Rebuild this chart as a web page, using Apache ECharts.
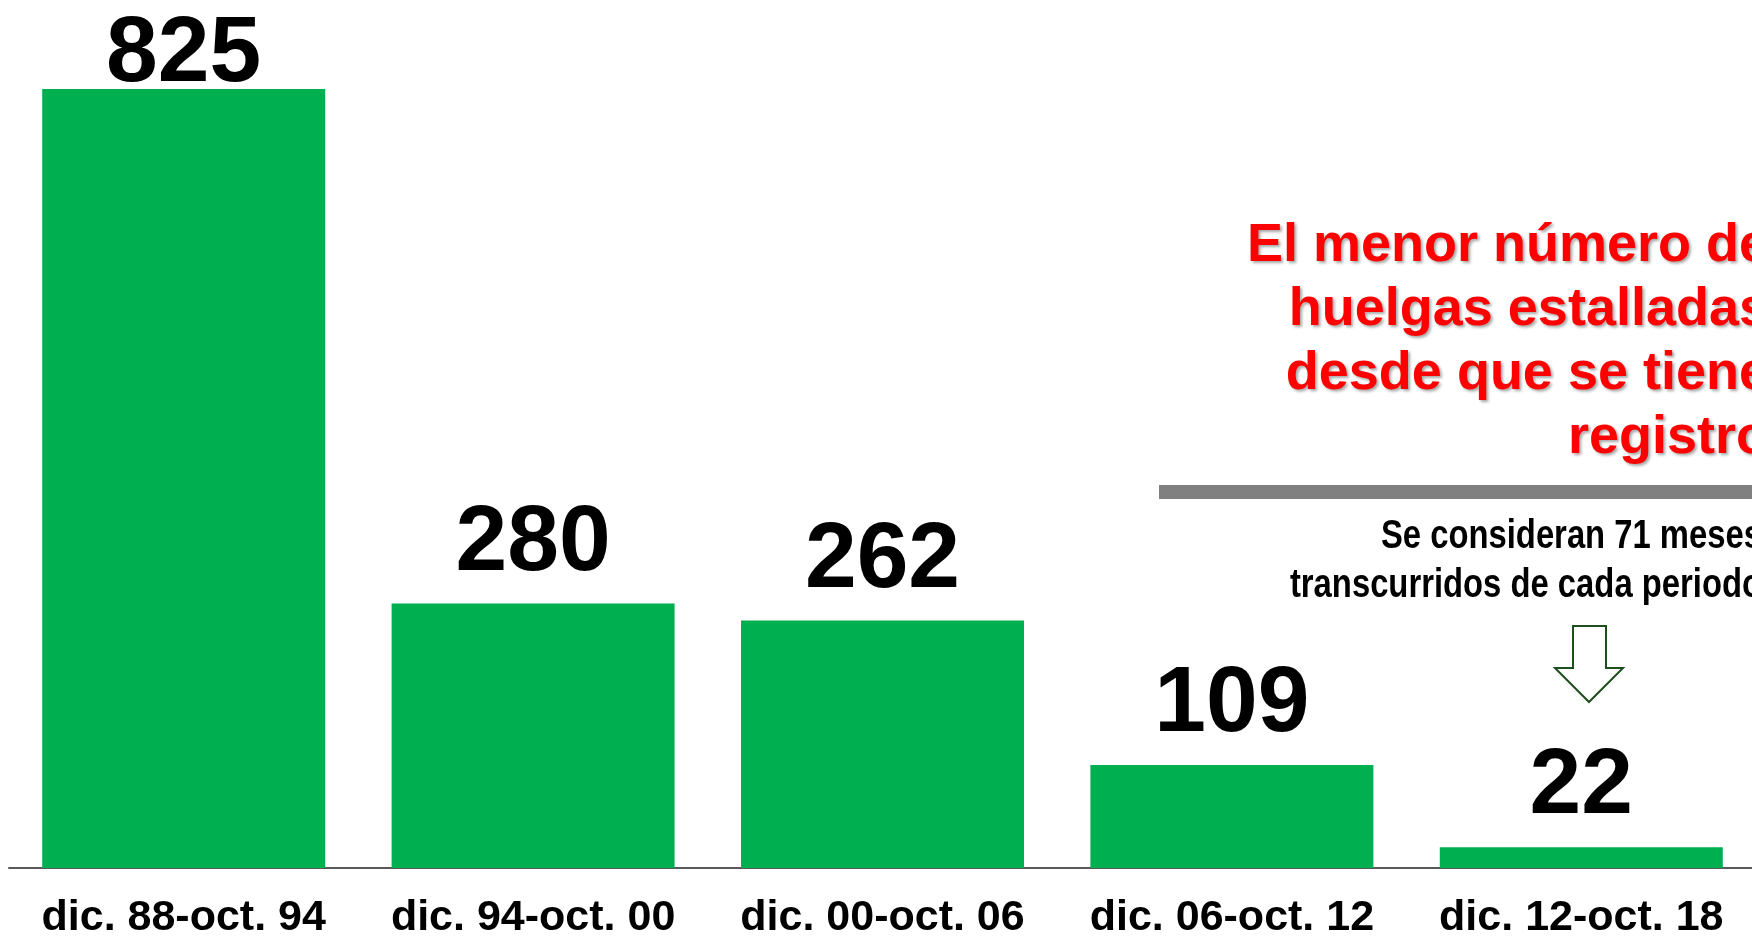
<!DOCTYPE html>
<html>
<head>
<meta charset="utf-8">
<script src="https://cdn.jsdelivr.net/npm/echarts@6/dist/echarts.min.js"></script>
<style>
  html, body { margin: 0; padding: 0; background: #fff; }
  #chart { width: 1752px; height: 936px; }
</style>
</head>
<body>
<div id="chart"></div>
<script>
// periodos sexenales y huelgas estalladas
var periodos = ['dic. 88-oct. 94', 'dic. 94-oct. 00', 'dic. 00-oct. 06', 'dic. 06-oct. 12', 'dic. 12-oct. 18'];
var huelgas = [825, 280, 262, 109, 22];

var notaRoja = 'El menor número de\nhuelgas estalladas\ndesde que se tiene\nregistro';
var notaNegra = 'Se consideran 71 meses\ntranscurridos de cada periodo';

var fuente = '"Liberation Sans", Arial, sans-serif';

var datos = [];
for (var i = 0; i < huelgas.length; i++) {
    datos.push({
        value: huelgas[i],
        // la primera etiqueta queda pegada al borde superior
        label: { distance: i == 0 ? -13 : 13 }
    });
}

var option = {
    animation: false,
    grid: { left: 9, right: -4, top: 89, bottom: 68, containLabel: false, outerBoundsMode: 'none' },
    xAxis: {
        type: 'category',
        data: periodos,
        axisLine: { show: true, lineStyle: { color: '#595959', width: 2 } },
        axisTick: { show: false },
        splitLine: { show: false },
        axisLabel: {
            interval: 0,
            margin: 29,
            color: '#000',
            fontFamily: fuente,
            fontWeight: 'bold',
            fontSize: 43
        }
    },
    yAxis: {
        type: 'value',
        min: 0,
        max: 825,
        show: false,
        splitLine: { show: false }
    },
    series: [{
        type: 'bar',
        data: datos,
        barWidth: 283,
        itemStyle: { color: '#00B050' },
        label: {
            show: true,
            position: 'top',
            color: '#000',
            fontFamily: fuente,
            fontWeight: 'bold',
            fontSize: 93
        }
    }],
    graphic: [
        {
            type: 'text',
            z: 10,
            style: {
                x: 1769, y: 214,
                text: notaRoja,
                align: 'right',
                verticalAlign: 'top',
                fill: '#FF0000',
                font: 'bold 54px ' + fuente,
                lineHeight: 64,
                textShadowColor: 'rgba(0,0,0,0.35)',
                textShadowBlur: 3,
                textShadowOffsetX: 2,
                textShadowOffsetY: 2
            }
        },
        {
            type: 'rect',
            shape: { x: 1159, y: 485, width: 600, height: 14 },
            style: { fill: '#808080' }
        },
        {
            // texto angosto: se comprime en horizontal desde el borde derecho
            type: 'text',
            x: 1762,
            y: 512,
            scaleX: 0.8,
            style: {
                x: 0, y: 0,
                text: notaNegra,
                align: 'right',
                verticalAlign: 'top',
                fill: '#000',
                font: 'bold 41px ' + fuente,
                lineHeight: 49
            }
        },
        {
            type: 'polygon',
            shape: {
                points: [[1573, 626], [1606, 626], [1606, 668], [1623, 668],
                         [1589, 702], [1555, 668], [1573, 668]]
            },
            style: { fill: '#fff', stroke: '#1E4D1E', lineWidth: 2 }
        }
    ]
};

var myChart = echarts.init(document.getElementById('chart'));
myChart.setOption(option);
</script>
</body>
</html>
